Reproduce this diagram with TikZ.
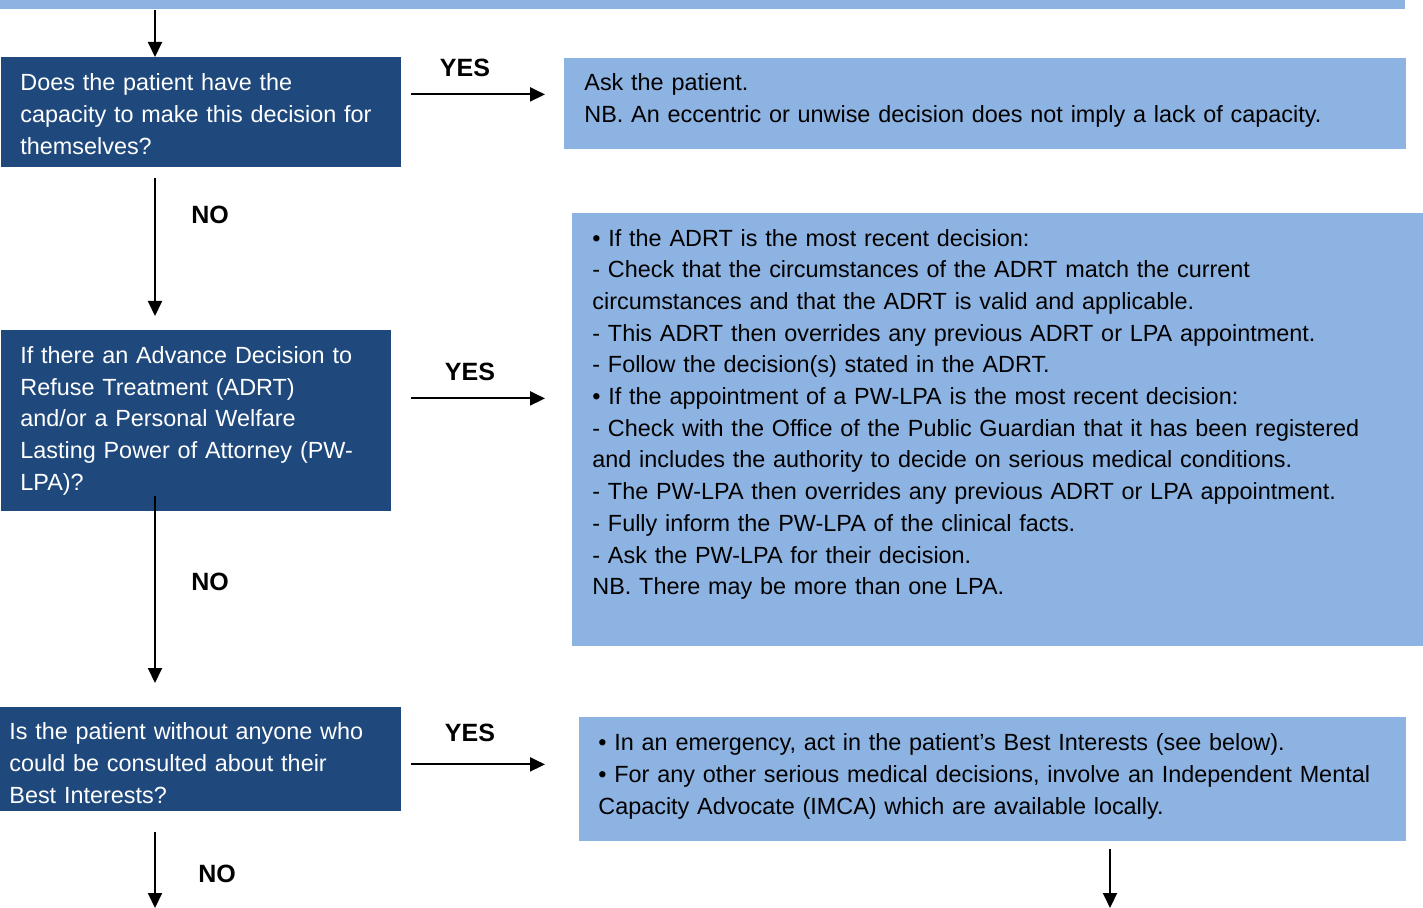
\documentclass[tikz,border=0pt]{standalone}
\usepackage{fontspec}
\setmainfont{Liberation Sans}
\usetikzlibrary{arrows.meta}
\definecolor{darkblue}{RGB}{31,73,125}
\definecolor{lightblue}{RGB}{141,179,226}
\hyphenpenalty=10000

\begin{document}
\begin{tikzpicture}[x=0.5pt,y=-0.5pt,
	qbox/.style={fill=darkblue,text=white,anchor=north west,align=left,inner ysep=0pt,font=\fontsize{11.7pt}{15.9pt}\selectfont},
	abox/.style={fill=lightblue,anchor=north west,align=left,inner ysep=0pt,font=\fontsize{11.7pt}{15.85pt}\selectfont},
	lab/.style={font=\fontsize{12.5pt}{14pt}\selectfont\bfseries},
	arr/.style={-{Triangle[width=7pt,length=7.5pt]},line width=1pt}]
				\useasboundingbox (0,0) rectangle (1423,908);
				\node[fill=lightblue,anchor=north west,minimum width=702.5pt,minimum height=4.5pt,inner sep=0pt] (bar) at (0,0) {};
				\node[qbox,inner xsep=9.5pt,text width=181pt,minimum height=55pt] (q1) at (1,57) {\rule{0pt}{10.5pt}Does the patient have the\\capacity to make this decision for\\themselves?};
				\node[qbox,inner xsep=9.5pt,text width=176pt,minimum height=90.5pt] (q2) at (1,330) {If there an Advance Decision to\\Refuse Treatment (ADRT)\\and/or a Personal Welfare\\Lasting Power of Attorney (PW-\\LPA)?};
				\node[qbox,inner xsep=4.5pt,text width=191.5pt,minimum height=52pt] (q3) at (0,707) {\rule{0pt}{12pt}Is the patient without anyone who\\could be consulted about their\\Best Interests?};
				\node[abox,inner xsep=10pt,text width=401pt,minimum height=45.5pt] (a1) at (564,58) {Ask the patient.\\NB. An eccentric or unwise decision does not imply a lack of capacity.\rule[-6pt]{0pt}{0pt}};
				\node[abox,inner xsep=10pt,text width=405.5pt,minimum height=216.5pt] (a2) at (572,213) {• If the ADRT is the most recent decision:\\- Check that the circumstances of the ADRT match the current\\circumstances and that the ADRT is valid and applicable.\\- This ADRT then overrides any previous ADRT or LPA appointment.\\- Follow the decision(s) stated in the ADRT.\\• If the appointment of a PW-LPA is the most recent decision:\\- Check with the Office of the Public Guardian that it has been registered\\and includes the authority to decide on serious medical conditions.\\- The PW-LPA then overrides any previous ADRT or LPA appointment.\\- Fully inform the PW-LPA of the clinical facts.\\- Ask the PW-LPA for their decision.\\NB. There may be more than one LPA.\rule[-18pt]{0pt}{0pt}};
				\node[abox,inner xsep=9.5pt,text width=394.5pt,minimum height=62pt] (a3) at (579,717) {• In an emergency, act in the patient’s Best Interests (see below).\\• For any other serious medical decisions, involve an Independent Mental\\Capacity Advocate (IMCA) which are available locally.\rule[-5.5pt]{0pt}{0pt}};
				\coordinate (spine) at (155,0);
				\coordinate (out1) at (155,908);
				\coordinate (out2) at (1110,908);
				\node[lab] (yes1) at (465,68) {YES};
				\node[lab] (no1) at (210,215) {NO};
				\node[lab] (yes2) at (470,372) {YES};
				\node[lab] (no2) at (210,582) {NO};
				\node[lab] (yes3) at (470,733) {YES};
				\node[lab] (no3) at (217,874) {NO};
				\draw[arr] (bar.south -| spine) -- (q1.north -| spine);
				\draw[arr,shorten <=4.5pt,shorten >=9.5pt] ([yshift=9pt]q1.east) -- ([yshift=9pt]q1.east -| a1.west);
				\draw[arr,shorten <=5pt,shorten >=7pt] (q1.south -| spine) -- (q2.north -| spine);
				\draw[arr,shorten <=9.5pt,shorten >=13.5pt] ([yshift=11.25pt]q2.east) -- ([yshift=11.25pt]q2.east -| a2.west);
				\draw[arr,shorten <=-8pt,shorten >=12pt] (q2.south -| spine) -- (q3.north -| spine);
				\draw[arr,shorten <=4.5pt,shorten >=17pt] ([yshift=-2.5pt]q3.east) -- ([yshift=-2.5pt]q3.east -| a3.west);
				\draw[arr,shorten <=10pt] (q3.south -| spine) -- (out1);
				\draw[arr,shorten <=3.5pt] (a3.south -| out2) -- (out2);
\end{tikzpicture}
\end{document}
